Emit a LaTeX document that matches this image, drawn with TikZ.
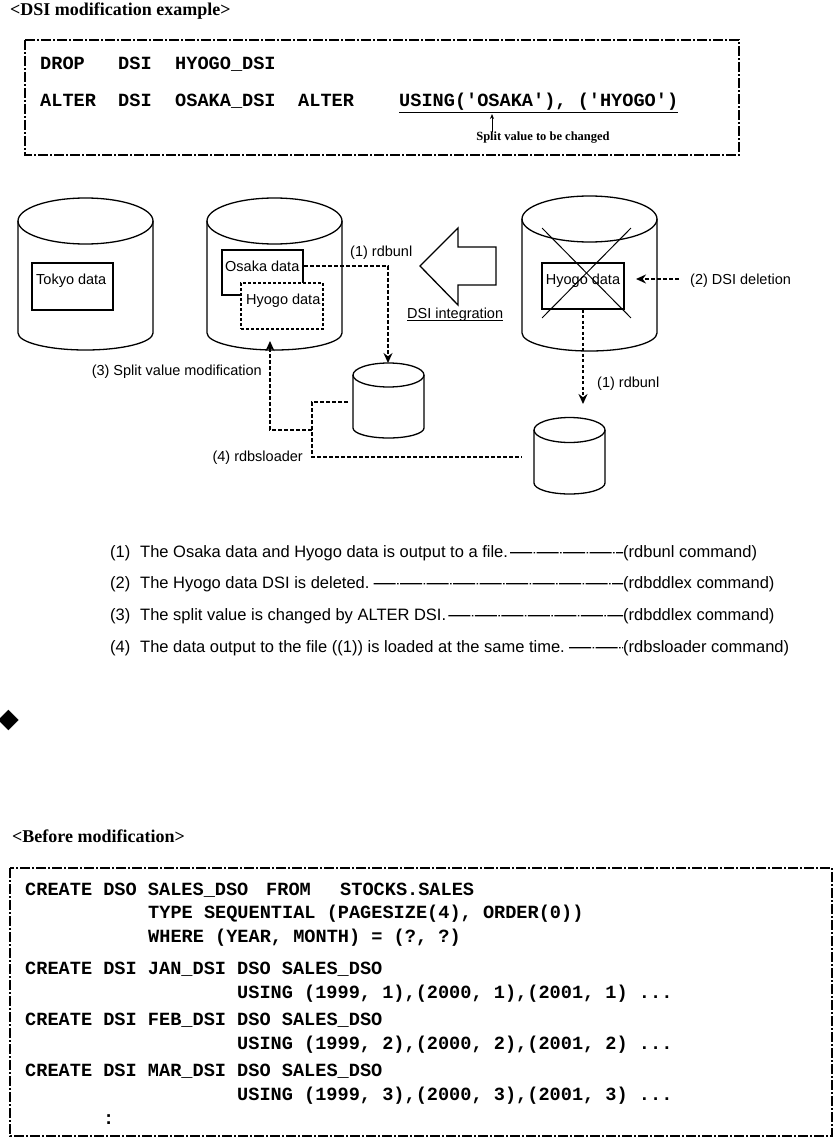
\documentclass[tikz,border=0pt]{standalone}
\usepackage{fontspec}
\setmainfont{Liberation Serif}
\setsansfont{Liberation Sans}
\setmonofont{Liberation Mono}
\newfontfamily\symfont{DejaVu Sans}
\usetikzlibrary{arrows.meta,calc}
\newcommand\drawcyl[6]{%
  \draw[cyl] (#1,#2) ellipse [x radius=#3, y radius=#4];
  \draw[cyl] (#1-#3,#2) -- (#1-#3,#5) arc[start angle=180, end angle=0, x radius=#3, y radius=#6] -- (#1+#3,#2);
}
\begin{document}
\begin{tikzpicture}[x=1pt,y=-1pt,
  cyl/.style={line width=1.3pt},
  databox/.style={draw, line width=1.8pt, inner sep=0pt, fill=white},
  dbox/.style={draw, line width=1.6pt, dash pattern=on 3pt off 2pt, inner sep=0pt, fill=white},
  conn/.style={line width=1.4pt, dash pattern=on 4pt off 2pt},
  dotconn/.style={line width=1.4pt, dash pattern=on 3pt off 2.5pt},
  tip/.style={-{Stealth[length=10pt,width=9pt]}},
  lbl/.style={font=\sffamily\fontsize{14.5}{16}\selectfont, inner sep=0pt, anchor=base west},
  lst/.style={font=\sffamily\fontsize{16.5}{18}\selectfont, inner sep=0pt, anchor=base west},
  lstdash/.style={line width=1.2pt, dash pattern=on 22pt off 1.5pt on 1.5pt off 1.5pt},
  code/.style={font=\ttfamily\bfseries\fontsize{18.6}{20}\selectfont, inner sep=0pt, anchor=base west},
  ttl/.style={font=\rmfamily\bfseries\fontsize{18}{20}\selectfont, inner sep=0pt, anchor=base west},
  frame/.style={line width=1.5pt, dash pattern=on 10pt off 2pt on 2pt off 2pt},
]
\useasboundingbox (0,0) rectangle (836,1139);

% ---------- title and top code box ----------
\node[ttl] (title) at (10,16) {<DSI modification example>};
\draw[frame] (25,40) rectangle (739,155);
\node[code] (drop) at (40,70) {DROP};
\node[code] (dsi1) at (118,70) {DSI};
\node[code] (hdsi) at (175,70) {HYOGO\_DSI};
\node[code] (alter1) at (40,107) {ALTER};
\node[code] (dsi2) at (118,107) {DSI};
\node[code] (odsi) at (175,107) {OSAKA\_DSI};
\node[code] (alter2) at (298,107) {ALTER};
\node[code] (using) at (399,107) {USING('OSAKA'), ('HYOGO')};
\draw[line width=1.3pt] ($(using.south west)+(0,1.5)$) -- ($(using.south east)+(0,1.5)$);
\node[font=\rmfamily\bfseries\fontsize{12.5}{15}\selectfont, inner sep=0pt] (split) at (543,138) {Split value to be changed};
\coordinate (splittip) at (492,114);
\draw[line width=0.9pt, -{Stealth[length=5pt,width=4pt]}] (split.north -| splittip) -- (splittip);

% ---------- cylinders ----------
\drawcyl{85.5}{221}{67.5}{23}{333}{17}
\drawcyl{274.5}{221}{67.5}{23}{333}{17}
\drawcyl{589.5}{219}{67.5}{23}{333}{18}
\drawcyl{388.5}{375}{35.5}{12}{428}{10}
\drawcyl{569.5}{430}{35.5}{12.5}{483}{11}

% ---------- data boxes ----------
\node[databox, minimum width=81pt, minimum height=47pt] (tokyo) at (72.5,286.5) {};
\node[lbl] (tokyot) at (36,285) {Tokyo data};
\node[databox, minimum width=81pt, minimum height=45pt] (osaka) at (262.5,272.5) {};
\node[dbox, minimum width=82pt, minimum height=46pt] (hyogo2) at (282,306) {};
\node[lbl] (osakat) at (225,272) {Osaka data};
\node[lbl] (hyogo2t) at (246,305) {Hyogo data};
\node[databox, minimum width=82pt, minimum height=46pt] (hyogo3) at (583,286) {};
\node[lbl, anchor=base] (hyogo3t) at (583,285) {Hyogo data};
\draw[line width=1pt] ($(hyogo3.north west)+(1,-34)$) -- ($(hyogo3.south east)+(6,8)$);
\draw[line width=1pt] ($(hyogo3.north east)+(6,-34)$) -- ($(hyogo3.south west)+(1,8)$);

% ---------- integration arrow ----------
\draw[line width=1.3pt] (420,266) -- (458,228) -- (458,247) -- (496,247) -- (496,285) -- (458,285) -- (458,305) -- cycle;
\node[lbl] (integ) at (407,318) {DSI integration};
\draw[line width=1pt] ($(integ.south west)+(0,-1)$) -- ($(integ.south east)+(0,-1)$);

% ---------- connectors ----------
\coordinate (cylAtop) at (388,363);
\coordinate (cylAleft) at (348,402);
\coordinate (cylBleft) at (522,457);
\coordinate (cylBarrow) at (583,404);
\coordinate (osakaout) at ($(osaka.north east)+(0,17)$);
\coordinate (splitin) at (270,341);
\coordinate (j1) at (312,402);
\coordinate (j2) at (312,457);
\coordinate (j3) at (312,430);
\coordinate (delS) at (679,279);
\coordinate (delT) at (636,279);

\draw[conn,tip] (osakaout) -| (cylAtop);
\draw[dotconn,tip] (hyogo3.south) -- (cylBarrow);
\draw[conn,tip] (delS) -- (delT);
\draw[conn] (cylAleft) -- (j1) -- (j2) -- (cylBleft);
\draw[conn,tip] (j3) -| (splitin);

\node[lbl] (l1a) at (350,257) {(1) rdbunl};
\node[lbl] (l1b) at (597,387) {(1) rdbunl};
\node[lbl] (l2) at (690,285) {(2) DSI deletion};
\node[lbl, anchor=base east] (l3) at (262,375) {(3) Split value modification};
\node[lbl, anchor=base east] (l4) at (303,461) {(4) rdbsloader};

% ---------- list ----------
\node[lst] (n1) at (110,557) {(1)};
\node[lst] (t1) at (140,557) {The Osaka data and Hyogo data is output to a file.};
\node[lst] (c1) at (623,557) {(rdbunl command)};
\node[lst] (n2) at (110,588) {(2)};
\node[lst] (t2) at (140,588) {The Hyogo data DSI is deleted.};
\node[lst] (c2) at (623,588) {(rdbddlex command)};
\node[lst] (n3) at (110,620) {(3)};
\node[lst] (t3) at (140,620) {The split value is changed by ALTER DSI.};
\node[lst] (c3) at (623,620) {(rdbddlex command)};
\node[lst] (n4) at (110,652) {(4)};
\node[lst] (t4) at (140,652) {The data output to the file ((1)) is loaded at the same time.};
\node[lst] (c4) at (623,652) {(rdbsloader command)};
\draw[lstdash] ($(t1.east)+(2,0)$) -- (c1.west);
\draw[lstdash] ($(t2.east)+(4,0)$) -- (c2.west);
\draw[lstdash] ($(t3.east)+(2,0)$) -- (c3.west);
\draw[lstdash] ($(t4.east)+(4,0)$) -- (c4.west);

% ---------- bullet and before modification ----------
\node[font=\symfont\fontsize{27}{28}\selectfont, inner sep=0pt] (bullet) at (8.5,720) {◆};
\node[ttl] (before) at (12,842) {<Before modification>};
\draw[frame] (10,868) rectangle (832,1136);
\node[code] (b1) at (25,895) {CREATE DSO SALES\_DSO};
\node[code] (b1b) at (266,895) {FROM};
\node[code] (b1c) at (340,895) {STOCKS.SALES};
\node[code] (b2) at (148,918.5) {TYPE SEQUENTIAL (PAGESIZE(4), ORDER(0))};
\node[code] (b3) at (148,942) {WHERE (YEAR, MONTH) = (?, ?)};
\node[code] (b4) at (25,974) {CREATE DSI JAN\_DSI DSO SALES\_DSO};
\node[code] (b5) at (237,998.5) {USING (1999, 1),(2000, 1),(2001, 1) ...};
\node[code] (b6) at (25,1025) {CREATE DSI FEB\_DSI DSO SALES\_DSO};
\node[code] (b7) at (237,1049.5) {USING (1999, 2),(2000, 2),(2001, 2) ...};
\node[code] (b8) at (25,1076) {CREATE DSI MAR\_DSI DSO SALES\_DSO};
\node[code] (b9) at (237,1100.5) {USING (1999, 3),(2000, 3),(2001, 3) ...};
\node[code] (b10) at (103,1124) {:};
\end{tikzpicture}
\end{document}
